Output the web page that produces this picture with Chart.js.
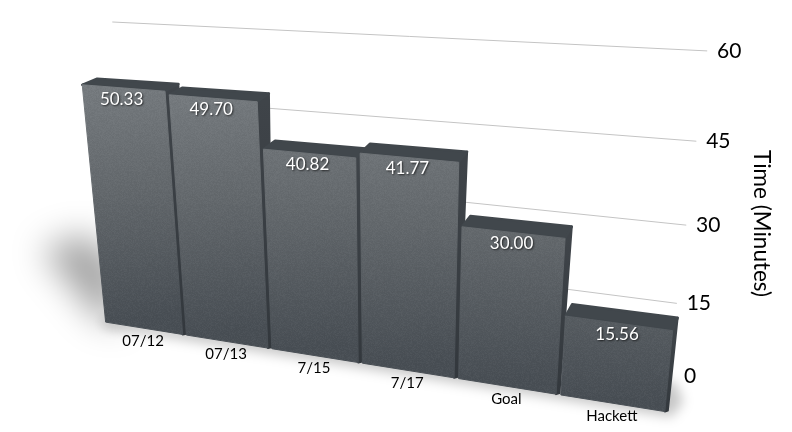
<!DOCTYPE html>
<html><head><meta charset="utf-8">
<style>html,body{margin:0;padding:0;background:#fff}canvas{display:block}</style>
<script src="https://cdn.jsdelivr.net/npm/chart.js@4"></script>
</head><body><canvas id="c" width="792" height="432"></canvas>
<script>
const categories = ['07/12','07/13','7/15','7/17','Goal','Hackett'];
const times = [50.33,49.70,40.82,41.77,30.00,15.56];
const yTicks = [0,15,30,45,60];
const yTitle = 'Time (Minutes)';
const FONT = 'Lato, "Open Sans", sans-serif';

// least-squares projective fit: [slot, value, screenX, screenY]
function fitH(pairs){
  const R=[];
  pairs.forEach(([x,y,X,Y])=>{
    R.push([x,y,1,0,0,0,-x*X,-y*X,X]);
    R.push([0,0,0,x,y,1,-x*Y,-y*Y,Y]);
  });
  const A=[];
  for(let i=0;i<8;i++){A.push([]);for(let j=0;j<9;j++){let s=0;R.forEach(r=>s+=r[i]*r[j]);A[i].push(s);}}
  for(let i=0;i<8;i++){let p=i;for(let r=i+1;r<8;r++)if(Math.abs(A[r][i])>Math.abs(A[p][i]))p=r;
    [A[i],A[p]]=[A[p],A[i]];
    for(let r=0;r<8;r++){if(r===i)continue;const f=A[r][i]/A[i][i];for(let c=i;c<9;c++)A[r][c]-=f*A[i][c];}}
  const h=A.map((r,i)=>r[8]/r[i]);
  return (u,v)=>{const w=h[6]*u+h[7]*v+1;return [(h[0]*u+h[1]*v+h[2])/w,(h[3]*u+h[4]*v+h[5])/w];};
}
const front = fitH([
  [0,0,105,322.7],[1,0,182,333.5],[2,0,270,348],[3,0,360.5,362.5],[4,0,456,378],[5,0,558,395],[6,0,668,412],
  [0,50.33,81,85],[1,50.33,165,92],[1,49.7,168,95],[2,49.7,258,101],[2,40.82,263,150],[3,40.82,357,156],
  [3,41.77,360,153],[4,41.77,458,162],[4,30,463,227],[5,30,568,239],[5,15.56,566,318],[6,15.56,672,330]
]);
const wall = fitH([
  [6,60,707,52],[6,60,707,52],[6,45,697,140],[6,30,687,223],[6,15,677,303],[6,0,667,378],[0,60,112,22],[0,60,112,22],[0,15,138,234]
]);

function poly(ctx,pts){ctx.beginPath();pts.forEach((p,i)=>i?ctx.lineTo(p[0],p[1]):ctx.moveTo(p[0],p[1]));ctx.closePath();}
function lerp(a,b,t){return a+(b-a)*t;}

function grainPattern(ctx){
  const c=document.createElement('canvas');c.width=c.height=96;const g=c.getContext('2d');
  const im=g.createImageData(96,96);
  for(let y=0;y<96;y++)for(let x=0;x<96;x++){
    const s=Math.sin(x*12.9898+y*78.233)*43758.5453;const n=s-Math.floor(s);
    const i=(y*96+x)*4;const b=n>.5?255:0;im.data[i]=im.data[i+1]=im.data[i+2]=b;im.data[i+3]=Math.abs(n-.5)*16;
  }
  g.putImageData(im,0,0);return ctx.createPattern(c,'repeat');
}

const persp3d = {
  id:'persp3d',
  beforeDatasetsDraw(chart){
    const ctx=chart.ctx, xs=chart.scales.x, ys=chart.scales.y, a=chart.chartArea;
    const slot=(a.right-a.left)/categories.length;
    const U=px=>(px-a.left)/slot;
    const V=py=>ys.getValueForPixel(py);
    ctx.save();
    // wall gridlines
    ctx.strokeStyle='#c4c4c4';ctx.lineWidth=1;
    ys.ticks.forEach(t=>{ if(t.value===0) return;
      const p=wall(0,t.value),q=wall(6,t.value);
      ctx.beginPath();ctx.moveTo(p[0],p[1]);ctx.lineTo(q[0],q[1]);ctx.stroke();});
    // soft shadows
    const o=front(0,0), e=front(6,0);
    ctx.save();ctx.filter='blur(17px)';ctx.fillStyle='rgba(0,0,0,.36)';
    poly(ctx,[[o[0]-62,o[1]-72],[o[0]-20,o[1]-88],[o[0]+14,o[1]-60],[o[0]+14,o[1]+6],[o[0]-8,o[1]-6]]);ctx.fill();
    ctx.restore();
    ctx.save();ctx.filter='blur(6px)';ctx.fillStyle='rgba(0,0,0,.22)';
    poly(ctx,[[o[0]-4,o[1]-4],[e[0]+8,e[1]-30],[e[0]+16,e[1]-10],[e[0]+4,e[1]+5],[o[0]+2,o[1]+6]]);ctx.fill();
    ctx.restore();

    const meta=chart.getDatasetMeta(0);
    const grain=grainPattern(ctx);
    meta.data.forEach((bar,i)=>{
      const p=bar.getProps(['x','y','base','width'],true);
      const u0=U(p.x-p.width/2),u1=U(p.x+p.width/2),v=V(p.y),v0=V(p.base);
      const bl=front(u0,v0),br=front(u1,v0),tl=front(u0,v),tr=front(u1,v);
      const dT=t=>[lerp(15,5,t),lerp(-6,-13,t)];
      const dB=t=>[lerp(5,3,t),-1];
      const tU0=u0/6,tU1=u1/6;
      const btl=[tl[0]+dT(tU0)[0],tl[1]+dT(tU0)[1]];
      const btr=[tr[0]+dT(tU1)[0],tr[1]+dT(tU1)[1]];
      const bbr=[br[0]+dB(tU1)[0],br[1]+dB(tU1)[1]];
      ctx.lineJoin='round';ctx.lineWidth=2;
      // side face
      let g=ctx.createLinearGradient(tr[0],tr[1],tr[0],br[1]);
      g.addColorStop(0,'#3f4449');g.addColorStop(1,'#33383d');
      poly(ctx,[tr,btr,bbr,br]);ctx.fillStyle=g;ctx.strokeStyle=g;ctx.fill();ctx.stroke();
      // top face
      poly(ctx,[tl,btl,btr,tr]);ctx.fillStyle='#41474c';ctx.strokeStyle='#41474c';ctx.lineWidth=2.5;ctx.fill();ctx.stroke();
      // front face
      const gt=front(u0,55),gb=front(u0,0);
      g=ctx.createLinearGradient(gt[0],gt[1],gb[0],gb[1]);
      g.addColorStop(0,'#7a7f83');g.addColorStop(.5,'#63686c');g.addColorStop(1,'#484e54');
      poly(ctx,[tl,tr,br,bl]);ctx.fillStyle=g;ctx.strokeStyle=g;ctx.lineWidth=1;ctx.stroke();ctx.fill();
      ctx.fillStyle=grain;ctx.fill();
      // value label
      const cx=(tl[0]+tr[0])/2-2,cy=(tl[1]+tr[1])/2+11;
      ctx.save();ctx.font='17px '+FONT;ctx.textAlign='center';ctx.textBaseline='middle';
      ctx.shadowColor='rgba(0,0,0,.7)';ctx.shadowBlur=2;ctx.shadowOffsetX=1;ctx.shadowOffsetY=1;
      ctx.fillStyle='#fff';ctx.fillText(times[i].toFixed(2),cx,cy);ctx.restore();
      // category label
      const lx=(bl[0]+br[0])/2-1,ly=(bl[1]+br[1])/2+13;
      ctx.font='15px '+FONT;ctx.textAlign='center';ctx.textBaseline='middle';ctx.fillStyle='#000';
      ctx.fillText(xs.getLabelForValue(i),lx,ly);
    });
    // value axis ticks & title
    ctx.font='21px '+FONT;ctx.fillStyle='#000';ctx.textAlign='center';ctx.textBaseline='middle';
    ys.ticks.forEach(t=>{const q=wall(6,t.value);ctx.fillText(String(t.value),q[0]+22,q[1]);});
    ctx.save();ctx.translate(761,223.5);ctx.rotate(Math.PI/2);ctx.font='22.5px '+FONT;
    ctx.fillText(ys.options.title.text,0,0);ctx.restore();
    ctx.restore();
    return false;
  }
};

new Chart(document.getElementById('c'),{
  type:'bar',
  data:{labels:categories,datasets:[{label:yTitle,data:times,backgroundColor:'#5f6468',barPercentage:.955,categoryPercentage:1}]},
  options:{
    responsive:false,animation:false,devicePixelRatio:1,
    plugins:{legend:{display:false},tooltip:{enabled:false}},
    scales:{
      x:{display:false},
      y:{display:false,position:'right',min:0,max:60,afterBuildTicks(s){s.ticks=yTicks.map(v=>({value:v}));},title:{display:false,text:yTitle}}
    }
  },
  plugins:[persp3d]
});
</script></body></html>
